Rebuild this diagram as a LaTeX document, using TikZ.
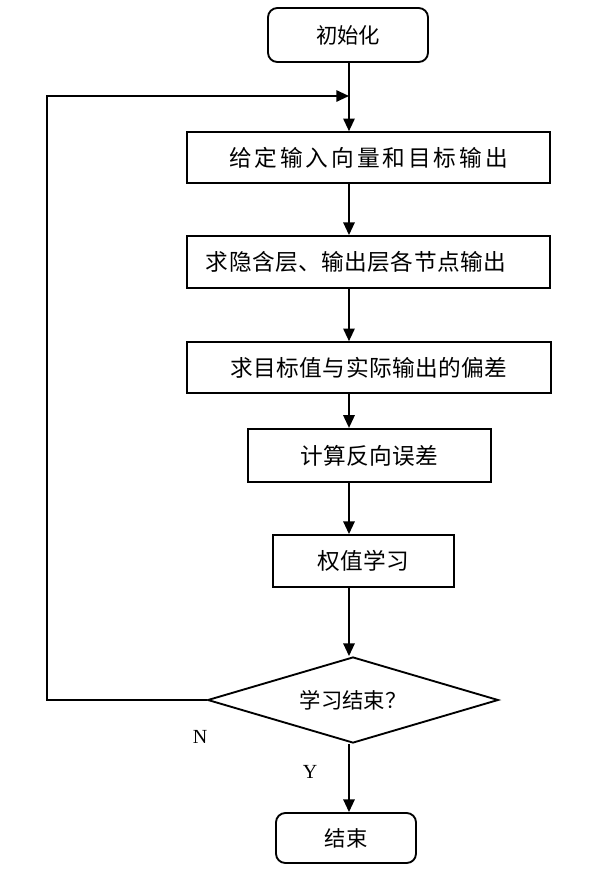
\documentclass[tikz,border=0pt]{standalone}
\usepackage{fontspec}
\newfontfamily\cjk{Noto Sans CJK SC}
\newfontfamily\cjkw[LetterSpace=2]{Noto Sans CJK SC}
\newfontfamily\cjkww[LetterSpace=13]{Noto Sans CJK SC}
\newfontfamily\latn{Liberation Serif}
\usetikzlibrary{shapes.geometric,arrows.meta}
\tikzset{
  x=0.75pt, y=-0.75pt,
  base/.style={draw, line width=1.4pt, inner sep=0pt, font=\fontsize{17pt}{19pt}\cjkw},
  stepbox/.style={base, rectangle},
  termbox/.style={base, rectangle, rounded corners=7pt, font=\fontsize{16pt}{18pt}\cjk},
  decision/.style={base, diamond, aspect=3.4, font=\fontsize{16pt}{18pt}\cjk},
  arr/.style={line width=1.4pt, -{Triangle[length=9.5pt,width=8.5pt]}},
  yn/.style={font=\fontsize{15pt}{17pt}\latn}
}
\begin{document}
\begin{tikzpicture}
\useasboundingbox (0,0) rectangle (603,883);
\node[termbox, minimum width=120pt, minimum height=40.5pt] (init) at (348,35) {初始化};
\node[stepbox, minimum width=272pt, minimum height=38pt, font=\fontsize{17pt}{19pt}\cjkww] (b2) at (368.5,157.5) {给定输入向量和目标输出};
\node[stepbox, minimum width=272pt, minimum height=39pt] (b3) at (368.5,262) {};
\node (t3) at (356,262) [font=\fontsize{17pt}{19pt}\cjkw] {求隐含层、输出层各节点输出};
\node[stepbox, minimum width=273pt, minimum height=38pt] (b4) at (369,367.5) {求目标值与实际输出的偏差};
\node[stepbox, minimum width=182pt, minimum height=40pt] (b5) at (369.5,455.5) {计算反向误差};
\node[stepbox, minimum width=136pt, minimum height=39pt] (b6) at (363.5,561) {权值学习};
\node[decision, minimum width=218pt, minimum height=64.5pt] (dia) at (353,700) {学习结束？};
\node[termbox, minimum width=105pt, minimum height=37.5pt] (end) at (346,838) {结束};
\coordinate (ax) at (349,0);
\coordinate (lc) at (47,96);
\coordinate (lj) at (349,96);
\draw[arr] (ax |- init.south) -- (ax |- b2.north);
\draw[arr] (ax |- b2.south) -- (ax |- b3.north);
\draw[arr] (ax |- b3.south) -- (ax |- b4.north);
\draw[arr] (ax |- b4.south) -- (ax |- b5.north);
\draw[arr] (ax |- b5.south) -- (ax |- b6.north);
\draw[arr] (ax |- b6.south) -- (ax |- dia.north);
\draw[arr] (ax |- dia.south) -- (ax |- end.north);
\draw[arr] (dia.west) -| (lc) -- (lj);
\node[yn] (nlab) at (200,737) {N};
\node[yn] (ylab) at (310,772) {Y};
\end{tikzpicture}
\end{document}
